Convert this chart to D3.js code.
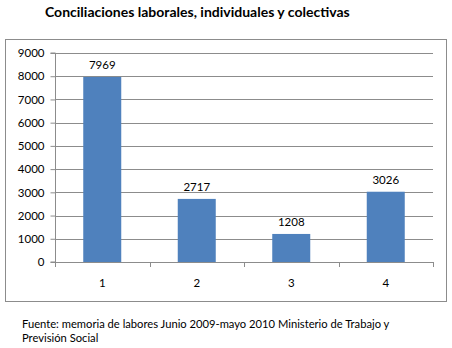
<!DOCTYPE html>
<html>
<head>
<meta charset="utf-8">
<script src="https://cdn.jsdelivr.net/npm/d3@7/dist/d3.min.js"></script>
<style>
  html, body { margin: 0; padding: 0; background: #fff; }
  svg { display: block; font-family: Lato, "Open Sans", sans-serif; }
</style>
</head>
<body>
<svg id="chart" width="452" height="348"></svg>
<script>
// Conciliaciones por categoría
const categories = ["1", "2", "3", "4"];
const values = [7969, 2717, 1208, 3026];
const yTicks = [0, 1000, 2000, 3000, 4000, 5000, 6000, 7000, 8000, 9000];

const svg = d3.select("#chart");

// Title
svg.append("text")
  .attr("x", 45).attr("y", 17)
  .attr("font-size", 14).attr("font-weight", "bold").attr("fill", "#000")
  .text("Conciliaciones laborales, individuales y colectivas");

// Chart frame
svg.append("rect")
  .attr("x", 5.5).attr("y", 39.5).attr("width", 441).attr("height", 262)
  .attr("fill", "#fff").attr("stroke", "#8c8c8c").attr("stroke-width", 1);

const plotLeft = 55, plotRight = 433, plotTop = 53, plotBottom = 262;

const xGroup = d3.scaleBand().domain(categories).range([plotLeft, plotRight]);
const y = d3.scaleLinear().domain([0, 9000]).range([plotBottom, plotTop]);

// Gridlines
svg.append("g")
  .selectAll("line").data(yTicks.filter(t => t > 0)).join("line")
  .attr("x1", plotLeft).attr("x2", plotRight)
  .attr("y1", d => Math.round(y(d)) + 0.5).attr("y2", d => Math.round(y(d)) + 0.5)
  .attr("stroke", "#8c8c8c").attr("stroke-width", 1);

// Bars
svg.append("g")
  .selectAll("rect").data(values).join("rect")
  .attr("x", (d, i) => xGroup(categories[i]) + xGroup.bandwidth() / 2 - 19)
  .attr("width", 38)
  .attr("y", d => y(d))
  .attr("height", d => plotBottom - y(d))
  .attr("fill", "#4f81bd");

// Value labels
svg.append("g")
  .selectAll("text").data(values).join("text")
  .attr("x", (d, i) => xGroup(categories[i]) + xGroup.bandwidth() / 2)
  .attr("y", d => y(d) - 8)
  .attr("text-anchor", "middle").attr("font-size", 11.5).attr("fill", "#000")
  .text(d => d);

// Y axis
const yAxis = d3.axisLeft(y).tickValues(yTicks).tickSize(5).tickPadding(6).tickFormat(d3.format("d"));
const gy = svg.append("g").attr("transform", `translate(${plotLeft + 0.5},0)`).call(yAxis);
gy.select(".domain").attr("stroke", "#8c8c8c").attr("d", `M-5,${plotTop}H0V${plotBottom}H-5`);
gy.selectAll(".tick line").attr("stroke", "#8c8c8c");
gy.selectAll(".tick text").attr("font-size", 11.5).attr("fill", "#000").attr("font-family", "Lato, sans-serif");

// X axis
const xAxis = d3.axisBottom(xGroup).tickSize(0).tickPadding(16);
const gx = svg.append("g").attr("transform", `translate(0,${plotBottom + 0.5})`).call(xAxis);
gx.select(".domain").attr("stroke", "#8c8c8c").attr("d", `M${plotLeft},0H${plotRight}`);
gx.selectAll(".tick text").attr("font-size", 11.5).attr("fill", "#000").attr("font-family", "Lato, sans-serif");

// Category boundary ticks
const bounds = categories.map(c => xGroup(c)).concat([plotRight]);
svg.append("g")
  .selectAll("line").data(bounds).join("line")
  .attr("x1", d => Math.round(d) + 0.5).attr("x2", d => Math.round(d) + 0.5)
  .attr("y1", plotBottom).attr("y2", plotBottom + 5)
  .attr("stroke", "#8c8c8c");

// Source note
const note = svg.append("text").attr("font-size", 11.2).attr("fill", "#000");
note.append("tspan").attr("x", 22).attr("y", 328)
  .text("Fuente: memoria de labores Junio 2009-mayo 2010 Ministerio de Trabajo y");
note.append("tspan").attr("x", 22).attr("y", 342)
  .text("Previsión Social");
</script>
</body>
</html>
